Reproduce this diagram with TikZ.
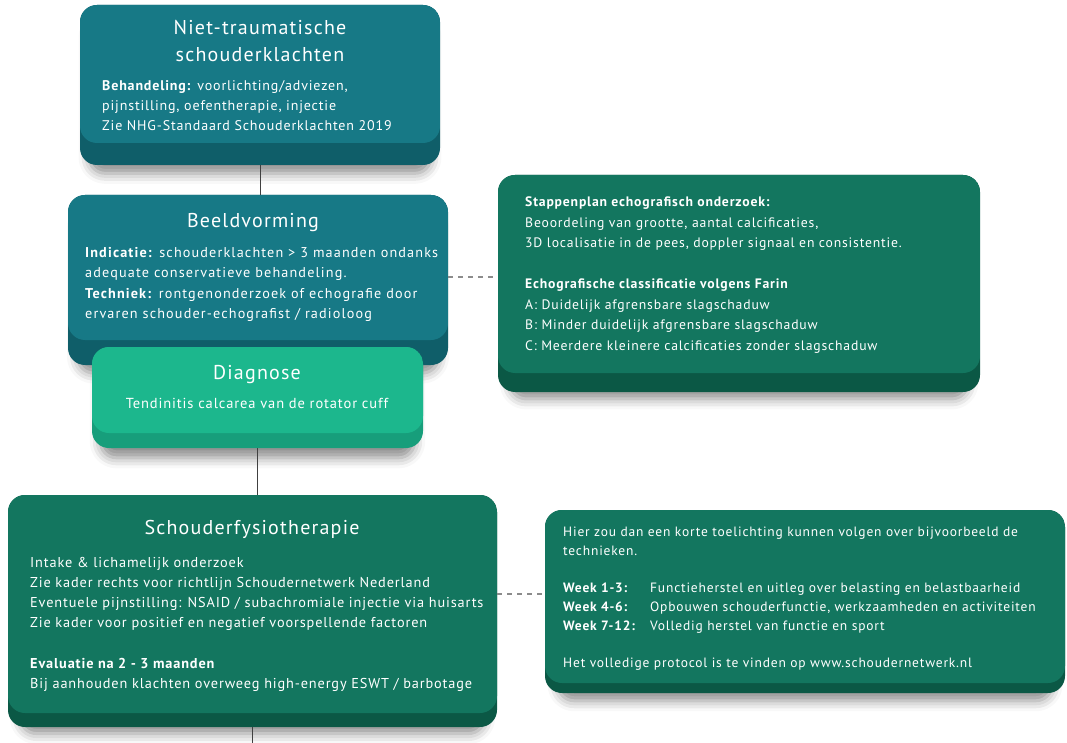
\documentclass[tikz,border=0pt]{standalone}
\usepackage{fontspec}
\setmainfont{PT Sans}[LetterSpace=6]
\usetikzlibrary{calc, shadows.blur}

\definecolor{petrol}{HTML}{177986}
\definecolor{petroldonker}{HTML}{0F5E69}
\definecolor{groen}{HTML}{13765F}
\definecolor{groendonker}{HTML}{0B5845}
\definecolor{mint}{HTML}{1CB78D}
\definecolor{mintdonker}{HTML}{179E7B}

\tikzset{
  blok/.style n args={3}{fill=#2, rounded corners=17pt, inner sep=0pt,
    blur shadow={shadow xshift=0pt, shadow yshift=-13pt, shadow blur radius=11pt,
      shadow opacity=45, shadow scale=0.95},
    path picture={\fill[#1, rounded corners=17pt] (path picture bounding box.north west)
      rectangle ([yshift=#3]path picture bounding box.south east);}},
  titel/.style={text=white, font=\fontsize{20}{27}\selectfont, align=center,
    inner sep=0pt, anchor=north},
  subtitel/.style={titel, font=\fontsize{14.5}{20}\selectfont},
  tekst/.style={text=white, font=\fontsize{14}{20.4}\selectfont, align=left,
    inner sep=0pt, anchor=north west},
  kleintekst/.style={tekst, font=\fontsize{13.5}{18.7}\selectfont},
  lijn/.style={draw=black!75, line width=0.8pt},
  stippel/.style={draw=black!45, line width=1.3pt, dash pattern=on 5pt off 5pt},
}

\begin{document}
\begin{tikzpicture}[x=1pt, y=-1pt]
  \useasboundingbox (0,0) rectangle (1067,743);

\node[blok={petrol}{petroldonker}{22pt}, minimum width=360pt, minimum height=160pt]
  (klacht) at (260,85) {};
\node[blok={petrol}{petroldonker}{25pt}, minimum width=380pt, minimum height=170pt]
  (beeld) at (258,280) {};
\node[blok={mint}{mintdonker}{15pt}, minimum width=331pt, minimum height=101pt]
  (diagnose) at (257.5,397.5) {};
\node[blok={groen}{groendonker}{19pt}, minimum width=482pt, minimum height=217pt]
  (echo) at (739,283.5) {};
\node[blok={groen}{groendonker}{14pt}, minimum width=489pt, minimum height=232pt]
  (fysio) at (252.5,611) {};
\node[blok={groen}{groendonker}{10pt}, minimum width=520pt, minimum height=183pt]
  (week) at (805,601.5) {};

\node[titel] (klachttitel) at (260,20) {Niet-traumatische\\schouderklachten};
\node[tekst] (klachttekst) at (102,80) {\textbf{Behandeling:} voorlichting/adviezen,\\
  pijnstilling, oefentherapie, injectie\\Zie NHG-Standaard Schouderklachten 2019};

\node[titel] (beeldtitel) at (253,213) {Beeldvorming};
\node[tekst, font=\fontsize{14.2}{20.4}\selectfont\addfontfeature{LetterSpace=8}]
  (beeldtekst) at (85,247) {\textbf{Indicatie:} schouderklachten > 3 maanden ondanks\\
  adequate conservatieve behandeling.\\
  \textbf{Techniek:} rontgenonderzoek of echografie door\\
  ervaren schouder-echografist / radioloog};

\node[titel] (diagnosetitel) at (257,365) {Diagnose};
\node[subtitel] (diagnosetekst) at (257,398) {Tendinitis calcarea van de rotator cuff};

\node[tekst, font=\fontsize{13.7}{20.5}\selectfont] (echotekst) at (525,197)
  {\textbf{Stappenplan echografisch onderzoek:}\\
  Beoordeling van grootte, aantal calcificaties,\\
  3D localisatie in de pees, doppler signaal en consistentie.\\[20.5pt]
  \textbf{Echografische classificatie volgens Farin}\\
  A: Duidelijk afgrensbare slagschaduw\\
  B: Minder duidelijk afgrensbare slagschaduw\\
  C: Meerdere kleinere calcificaties zonder slagschaduw};

\node[titel] (fysiotitel) at (252,520) {Schouderfysiotherapie};
\node[tekst, font=\fontsize{14.3}{20.2}\selectfont] (fysiotekst) at (30,557)
  {Intake \& lichamelijk onderzoek\\
  Zie kader rechts voor richtlijn Schoudernetwerk Nederland\\
  Eventuele pijnstilling: NSAID / subachromiale injectie via huisarts\\
  Zie kader voor positief en negatief voorspellende factoren\\[20.2pt]
  \textbf{Evaluatie na 2 - 3 maanden}\\
  Bij aanhouden klachten overweeg high-energy ESWT / barbotage};

\node[kleintekst] (weektekst) at (563,527) {Hier zou dan een korte toelichting kunnen volgen over bijvoorbeeld de\\
  technieken.\\[18.7pt]
  \makebox[87pt][l]{\textbf{Week 1-3:}}Functieherstel en uitleg over belasting en belastbaarheid\\
  \makebox[87pt][l]{\textbf{Week 4-6:}}Opbouwen schouderfunctie, werkzaamheden en activiteiten\\
  \makebox[87pt][l]{\textbf{Week 7-12:}}Volledig herstel van functie en sport\\[18.7pt]
  Het volledige protocol is te vinden op www.schoudernetwerk.nl};

\coordinate (einde) at (259,743);
\draw[lijn] (klacht.south) -- (klacht.south |- beeld.north);
\draw[lijn] (diagnose.south) -- (diagnose.south |- fysio.north);
\draw[lijn] (fysio.south) -- (fysio.south |- einde);
\draw[stippel] ([yshift=3pt]beeld.east) -- ([yshift=3pt]beeld.east -| echo.west);
\draw[stippel] ([yshift=17pt]fysio.east) -- ([yshift=17pt]fysio.east -| week.west);
\end{tikzpicture}
\end{document}
